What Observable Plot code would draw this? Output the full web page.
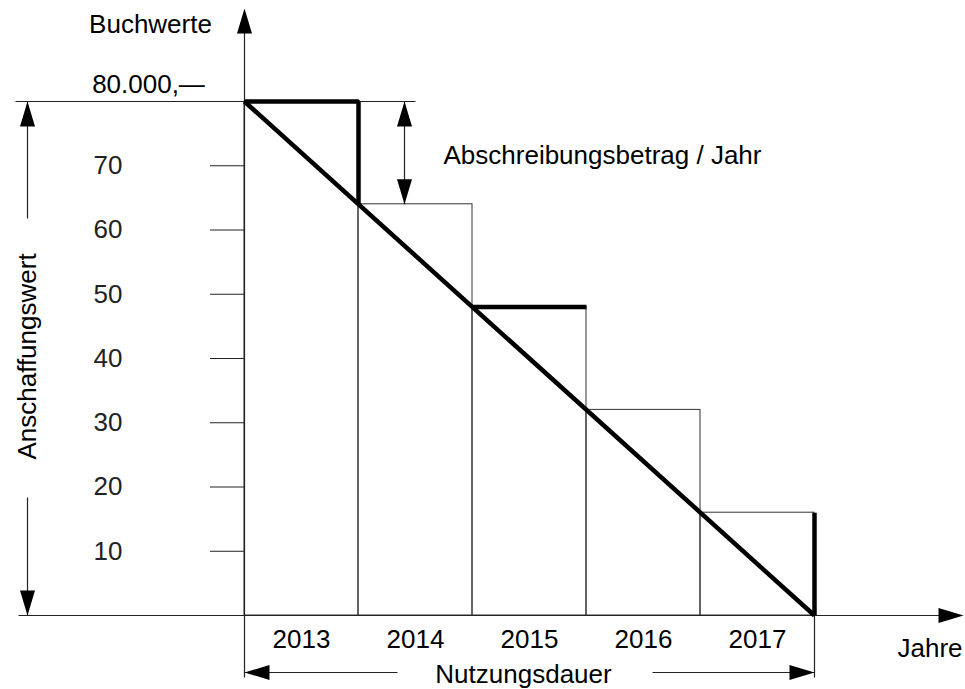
<!DOCTYPE html>
<html>
<head>
<meta charset="utf-8">
<script src="https://cdn.jsdelivr.net/npm/d3@7"></script>
<script src="https://cdn.jsdelivr.net/npm/@observablehq/plot@0.6"></script>
<style>
  html, body { margin: 0; padding: 0; background: #fff; }
  #chart svg { display: block; }
</style>
</head>
<body>
<div id="chart"></div>
<script>
// ---- data ----
const years = ["2013", "2014", "2015", "2016", "2017"];
const bookValues = [80, 64, 48, 32, 16, 0];      // book value at start of each year (in 1.000)
const yTicks = [10, 20, 30, 40, 50, 60, 70];
const thickTops = [0, 2];                         // years whose top edge is drawn bold
const thickDrops = [0, 4];                        // years whose drop (right edge) is drawn bold
const yAxisLabel = "Buchwerte";
const startValueLabel = "80.000,\u2014";
const xAxisLabel = "Jahre";
const amountLabel = "Abschreibungsbetrag / Jahr";
const costLabel = "Anschaffungswert";
const lifeLabel = "Nutzungsdauer";

// ---- layout ----
const W = 965, H = 689;
const ML = 244, MR = 151, MT = 101, MB = 74;
const FONT = "'Liberation Sans', Arial, Helvetica, sans-serif";
const FS = 26;

const sx = Plot.scale({x: {domain: [0, years.length], range: [ML, W - MR]}});
const sy = Plot.scale({y: {domain: [0, bookValues[0]], range: [H - MB, MT]}});
const ix = (px) => sx.invert(px);
const iy = (py) => sy.invert(py);

// bold step polylines
const steps = [];
for (const i of [...new Set([...thickTops, ...thickDrops])]) {
  const top = thickTops.includes(i), drop = thickDrops.includes(i);
  if (top) { steps.push({x: i, y: bookValues[i], z: i}); steps.push({x: i + 1, y: bookValues[i], z: i}); }
  if (drop) {
    if (!top) steps.push({x: i + 1, y: bookValues[i], z: i});
    steps.push({x: i + 1, y: bookValues[i + 1], z: i});
  }
}
const diagonal = [
  {x: 0, y: bookValues[0]},
  {x: years.length, y: bookValues[years.length]}
];

// arrow shafts
const n = years.length;
const shafts = [
  {x1: 0, y1: iy(677), x2: 0, y2: iy(20)},               // y axis
  {x1: n, y1: 0, x2: n, y2: iy(677)},                    // right extension
  {x1: ix(18), y1: 0, x2: ix(945), y2: 0},               // x axis
  {x1: ix(15), y1: bookValues[0], x2: ix(415), y2: bookValues[0]}, // 80 line
  {x1: ix(27), y1: bookValues[0], x2: ix(27), y2: iy(218)},
  {x1: ix(27), y1: iy(497), x2: ix(27), y2: 0},
  {x1: ix(404), y1: bookValues[0], x2: ix(404), y2: bookValues[1]},
  {x1: 0, y1: iy(672), x2: ix(397), y2: iy(672)},
  {x1: ix(652), y1: iy(672), x2: n, y2: iy(672)}
];
const heads = [
  {x: 0, y: iy(8), rot: 0},
  {x: ix(963), y: 0, rot: 90},
  {x: ix(27), y: bookValues[0], rot: 0},
  {x: ix(27), y: 0, rot: 180},
  {x: ix(404), y: bookValues[0], rot: 0},
  {x: ix(404), y: bookValues[1], rot: 180},
  {x: 0, y: iy(672), rot: -90},
  {x: n, y: iy(672), rot: 90}
];
const arrowHead = {
  draw(ctx) { ctx.moveTo(0, 0); ctx.lineTo(-7.5, 25); ctx.lineTo(7.5, 25); ctx.closePath(); }
};

const midTexts = [
  {x: ix(150), y: iy(24), t: yAxisLabel, r: 0},
  {x: ix(148), y: iy(84), t: startValueLabel, r: 0},
  {x: ix(523), y: iy(674.5), t: lifeLabel, r: 0},
  {x: ix(27), y: iy(356), t: costLabel, r: -90}
];
const startTexts = [
  {x: ix(443), y: iy(155.5), t: amountLabel},
  {x: ix(897), y: iy(648.5), t: xAxisLabel}
];

const chart = Plot.plot({
  width: W, height: H,
  marginLeft: ML, marginRight: MR, marginTop: MT, marginBottom: MB,
  style: {fontFamily: FONT, background: "#fff", color: "#000"},
  x: {domain: [0, n], axis: null},
  y: {domain: [0, bookValues[0]], axis: null},
  marks: [
    Plot.rect(years, {
      x1: (d, i) => i, x2: (d, i) => i + 1,
      y1: 0, y2: (d, i) => bookValues[i],
      fill: "none", stroke: "#333", strokeWidth: 1
    }),
    Plot.link(shafts, {x1: "x1", y1: "y1", x2: "x2", y2: "y2", stroke: "#222", strokeWidth: 1.2}),
    Plot.dot(heads, {x: "x", y: "y", rotate: "rot", symbol: arrowHead, fill: "#000", stroke: "none"}),
    Plot.axisY(yTicks, {anchor: "left", tickSize: 34, tickPadding: 88, fontSize: FS, label: null, color: "#222"}),
    Plot.axisX(years.map((d, i) => i + 0.5), {
      anchor: "bottom", tickSize: 0, tickPadding: 14, fontSize: FS, label: null,
      tickFormat: (d) => years[Math.floor(d)]
    }),
    Plot.line(diagonal, {x: "x", y: "y", stroke: "#000", strokeWidth: 4.5, strokeLinecap: "butt"}),
    Plot.line(steps, {x: "x", y: "y", z: "z", stroke: "#000", strokeWidth: 4.5, strokeLinejoin: "miter", strokeLinecap: "butt"}),
    Plot.text(midTexts, {x: "x", y: "y", text: "t", rotate: "r", textAnchor: "middle", fontSize: FS, fill: "#000"}),
    Plot.text(startTexts, {x: "x", y: "y", text: "t", textAnchor: "start", fontSize: FS, fill: "#000"})
  ]
});
document.getElementById("chart").appendChild(chart);
</script>
</body>
</html>
